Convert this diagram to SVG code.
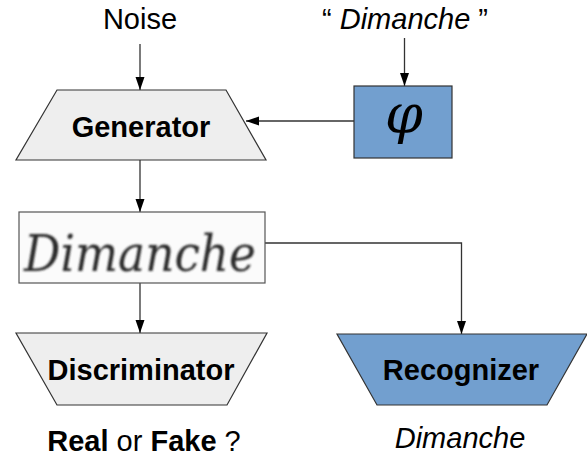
<svg xmlns="http://www.w3.org/2000/svg" width="587" height="456" viewBox="0 0 587 456">
<defs>
<marker id="arr" markerUnits="userSpaceOnUse" markerWidth="14" markerHeight="10" refX="13" refY="4.5" orient="auto">
<path d="M0,0 L13,4.5 L0,9 Z" fill="#000"/>
</marker>
<filter id="soft" x="-5%" y="-20%" width="110%" height="140%"><feGaussianBlur stdDeviation="0.9"/></filter>
</defs>
<style>
text{font-family:"Liberation Sans",Arial,sans-serif;fill:#000}
.lbl{font-size:29px}
.b{font-size:29px;font-weight:bold}
.it{font-style:italic}
.gray{fill:#eeeeee;stroke:#333;stroke-width:1.2}
.blue{fill:#729fcf;stroke:#333;stroke-width:1.2}
.con{fill:none;stroke:#333;stroke-width:1.3}
</style>
<rect width="587" height="456" fill="#fff"/>
<g id="labels">
<text class="lbl" x="140" y="29" text-anchor="middle">Noise</text>
<text class="lbl" x="405" y="29" text-anchor="middle">“ <tspan class="it">Dimanche</tspan> ”</text>
<text class="lbl" x="144" y="451" text-anchor="middle"><tspan font-weight="bold">Real</tspan> or <tspan font-weight="bold">Fake</tspan> ?</text>
<text class="lbl it" x="460" y="448" text-anchor="middle">Dimanche</text>
</g>
<g id="connectors">
<line class="con" x1="140" y1="44" x2="140" y2="90" marker-end="url(#arr)"/>
<line class="con" x1="404.5" y1="38" x2="404.5" y2="86" marker-end="url(#arr)"/>
<line class="con" x1="354" y1="121" x2="246" y2="121" marker-end="url(#arr)"/>
<line class="con" x1="140" y1="160" x2="140" y2="212" marker-end="url(#arr)"/>
<line class="con" x1="140" y1="283" x2="140" y2="333" marker-end="url(#arr)"/>
<polyline class="con" points="265,243 461.5,243 461.5,334" marker-end="url(#arr)"/>
</g>
<g id="generator">
<polygon class="gray" points="57,90 226,90 266,160 16,160"/>
<text class="b" x="141" y="137" text-anchor="middle">Generator</text>
</g>
<g id="phi">
<rect class="blue" x="354" y="86" width="98" height="72"/>
<text x="404" y="133" text-anchor="middle" style="font-family:'DejaVu Serif',serif;font-style:italic;font-size:54px">φ</text>
</g>
<g id="image">
<rect x="19" y="212" width="246" height="71" fill="#fbfbfb" stroke="#555" stroke-width="1.2"/>
<text x="24" y="271" textLength="232" lengthAdjust="spacingAndGlyphs" filter="url(#soft)" style="font-family:'DejaVu Serif',serif;font-style:italic;font-size:50px;fill:#2a2a2a">Dimanche</text>
</g>
<g id="discriminator">
<polygon class="gray" points="16,333 267,333 227,405 57,405"/>
<text class="b" x="141" y="380" text-anchor="middle">Discriminator</text>
</g>
<g id="recognizer">
<polygon class="blue" points="337,334 587,334 547,405 377,405"/>
<text class="b" x="461" y="380" text-anchor="middle">Recognizer</text>
</g>
</svg>
